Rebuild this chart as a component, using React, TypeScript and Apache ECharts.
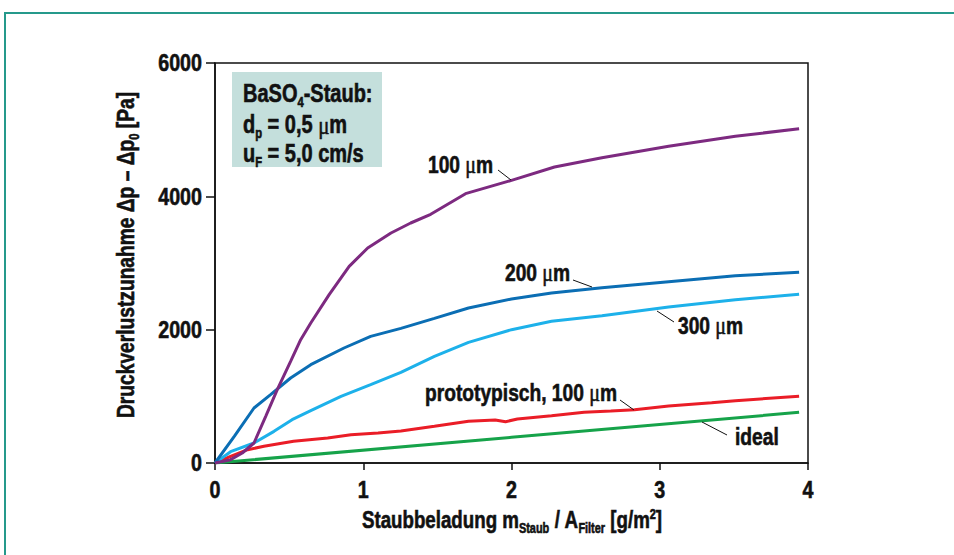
import React, { useEffect, useRef } from "react";
import * as echarts from "echarts";

// ---- data ----
const xTicks = [0, 1, 2, 3, 4];
const yTicks = [0, 2000, 4000, 6000];

const s100X = [0, 0.105, 0.184, 0.263, 0.342, 0.42, 0.51, 0.578, 0.646, 0.77, 0.905, 1.03, 1.187, 1.32, 1.455, 1.69, 2.0, 2.29, 2.61, 3.06, 3.51, 3.94];
const s100Y = [0, 50, 150, 300, 700, 1100, 1525, 1850, 2100, 2525, 2950, 3225, 3450, 3600, 3730, 4040, 4240, 4440, 4580, 4750, 4900, 5015];

const s200X = [0, 0.13, 0.263, 0.375, 0.51, 0.646, 0.87, 1.05, 1.254, 1.48, 1.71, 2.0, 2.27, 2.61, 3.06, 3.51, 3.94];
const s200Y = [0, 400, 825, 1025, 1275, 1475, 1725, 1900, 2020, 2170, 2325, 2460, 2550, 2630, 2720, 2810, 2860];

const s300X = [0, 0.105, 0.263, 0.398, 0.52, 0.646, 0.85, 1.05, 1.254, 1.48, 1.71, 2.0, 2.27, 2.61, 3.06, 3.51, 3.94];
const s300Y = [0, 170, 300, 475, 650, 785, 1000, 1175, 1360, 1600, 1810, 2000, 2125, 2210, 2340, 2450, 2530];

const protoX = [0, 0.105, 0.22, 0.33, 0.53, 0.76, 0.917, 1.1, 1.254, 1.48, 1.71, 1.89, 1.96, 2.04, 2.27, 2.49, 2.67, 2.83, 3.06, 3.35, 3.51, 3.94];
const protoY = [0, 100, 200, 250, 325, 375, 425, 450, 480, 550, 625, 645, 620, 660, 710, 760, 780, 800, 855, 905, 935, 1000];

const idealX = [0, 2.0, 3.94];
const idealY = [0, 385, 760];

const seriesNames = ["100 µm", "200 µm", "300 µm", "prototypisch, 100 µm", "ideal"];
const seriesColors = ["#7d2a80", "#0b6eb4", "#1db1ea", "#ea1d27", "#16a34a"];

const FONT = "'Liberation Sans', Arial, sans-serif";
const SX = 0.8;

const zip = (xs: number[], ys: number[]) => xs.map((x, i) => [x, ys[i]]);

const rich = {
  mu: { fontFamily: "'Liberation Serif', serif", fontWeight: "normal", fontSize: 26, fill: "#111" },
  muS: { fontFamily: "'Liberation Serif', serif", fontWeight: "normal", fontSize: 25, fill: "#111" },
  sub: { fontFamily: FONT, fontWeight: "bold", fontSize: 14, padding: [18, 0, 0, 0], fill: "#111" },
  sup: { fontFamily: FONT, fontWeight: "bold", fontSize: 14, padding: [0, 0, 10, 0], fill: "#111" },
};

function txt(text: string, x: number, y: number, opts: any = {}) {
  return {
    type: "text",
    x,
    y,
    scaleX: opts.scaleX ?? SX,
    rotation: opts.rotation ?? 0,
    z: opts.z ?? 30,
    silent: true,
    style: {
      text,
      fontFamily: FONT,
      fontWeight: "bold",
      fontSize: opts.size ?? 24,
      fill: "#111",
      stroke: "#111",
      lineWidth: 0.6,
      verticalAlign: "middle",
      align: opts.align ?? "left",
      rich,
    },
  };
}

function leader(x1: number, y1: number, x2: number, y2: number) {
  return {
    type: "line",
    z: 30,
    silent: true,
    shape: { x1, y1, x2, y2 },
    style: { stroke: "#111", lineWidth: 1 },
  };
}

export default function App() {
  const ref = useRef<HTMLDivElement>(null);
  useEffect(() => {
    document.body.style.margin = "0";
    const chart = echarts.init(ref.current!, undefined, { renderer: "svg" });
    const data = [zip(s100X, s100Y), zip(s200X, s200Y), zip(s300X, s300Y), zip(protoX, protoY), zip(idealX, idealY)];
    chart.setOption({
      animation: false,
      backgroundColor: "#ffffff",
      grid: {
        left: 215,
        right: 146,
        top: 63,
        bottom: 92,
        show: true,
        borderColor: "#111",
        borderWidth: 1.5,
        backgroundColor: "transparent",
      },
      xAxis: {
        type: "value",
        min: 0,
        max: 4,
        interval: 1,
        axisLine: { show: true, lineStyle: { color: "#111", width: 1.5 } },
        axisTick: { show: true, inside: false, length: 7, lineStyle: { color: "#111", width: 1.5 } },
        axisLabel: { show: false },
        splitLine: { show: false },
      },
      yAxis: {
        type: "value",
        min: 0,
        max: 6000,
        interval: 2000,
        axisLine: { show: true, lineStyle: { color: "#111", width: 1.5 } },
        axisTick: { show: true, inside: false, length: 9, lineStyle: { color: "#111", width: 1.5 } },
        axisLabel: { show: false },
        splitLine: { show: false },
      },
      series: data.map((d, i) => ({
        name: seriesNames[i],
        type: "line",
        data: d,
        showSymbol: false,
        smooth: false,
        lineStyle: { color: seriesColors[i], width: 3 },
        itemStyle: { color: seriesColors[i] },
        z: 10 - i,
      })),
    });

    // tick labels placed through the axes' own scales
    const tickGraphics: any[] = [];
    xTicks.forEach((v) => {
      const px = chart.convertToPixel({ xAxisIndex: 0 }, v) as number;
      const py = chart.convertToPixel({ yAxisIndex: 0 }, 0) as number;
      tickGraphics.push(txt(String(v), px, py + 27, { align: "center", scaleX: 0.82 }));
    });
    yTicks.forEach((v) => {
      const py = chart.convertToPixel({ yAxisIndex: 0 }, v) as number;
      const px = chart.convertToPixel({ xAxisIndex: 0 }, 0) as number;
      tickGraphics.push(txt(String(v), px - 13, py, { align: "right", scaleX: 0.82 }));
    });

    chart.setOption({
      graphic: [
        // outer teal frame
        {
          type: "rect",
          silent: true,
          shape: { x: 5, y: 13, width: 1200, height: 800 },
          style: { fill: "none", stroke: "#25998b", lineWidth: 2 },
        },
        // info box
        {
          type: "rect",
          silent: true,
          shape: { x: 232, y: 72, width: 150, height: 95 },
          style: { fill: "#c4dfdc" },
          z: 20,
        },
        txt("BaSO{sub|4}-Staub:", 243, 94, { size: 25 }),
        txt("d{sub|p} = 0,5 {mu|μ}m", 243, 125, { size: 25 }),
        txt("u{sub|F} = 5,0 cm/s", 243, 154, { size: 25 }),
        // curve labels
        txt("100 {muS|μ}m", 428, 165),
        leader(498, 170, 511, 180),
        txt("200 {muS|μ}m", 505, 273),
        leader(573, 280, 592, 287),
        txt("300 {muS|μ}m", 678, 326),
        leader(657, 311, 674, 322),
        txt("prototypisch, 100 {muS|μ}m", 425, 393),
        leader(620, 400, 634, 410),
        txt("ideal", 735, 437),
        leader(702, 422, 727, 435),
        // axis titles
        txt("Staubbeladung m{sub|Staub} / A{sub|Filter} [g/m{sup|2}]", 512, 520, { align: "center", scaleX: 0.78 }),
        txt("Druckverlustzunahme Δp – Δp{sub|0} [Pa]", 126, 255, { align: "center", rotation: Math.PI / 2 }),
        ...tickGraphics,
      ],
    });
    return () => chart.dispose();
  }, []);
  return (
    <div
      ref={ref}
      style={{ position: "absolute", left: 0, top: 0, width: 954, height: 555 }}
    />
  );
}
